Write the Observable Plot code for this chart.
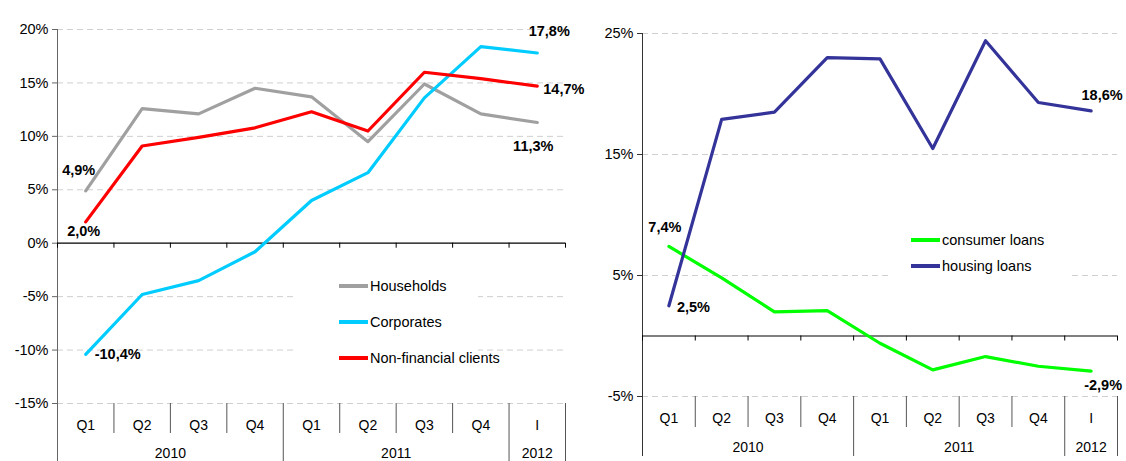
<!DOCTYPE html>
<html><head><meta charset="utf-8">
<script src="https://cdn.jsdelivr.net/npm/d3@7"></script>
<script src="https://cdn.jsdelivr.net/npm/@observablehq/plot@0.6"></script>
<style>
body{margin:0;background:#fff;}
#wrap{position:relative;width:1126px;height:461px;overflow:hidden;background:#fff;font-family:"Liberation Sans",Arial,sans-serif;}
#wrap svg{position:absolute;top:0;overflow:visible;}
.legend{position:absolute;background:#fff;}
.legend .row{position:absolute;left:0;height:0;width:100%;}
.legend .swatch{position:absolute;height:4px;top:-2px;}
.legend .lab{position:absolute;font-size:14.5px;line-height:1;top:-7px;white-space:nowrap;color:#000;}
</style></head><body><div id="wrap"></div>
<script>
// ---- data ----
const quarters = ["Q1","Q2","Q3","Q4","Q1","Q2","Q3","Q4","I"];
const yearLabels = ["2010","2011","2012"];
const yearStart = [0,4,8];
const yearEnd = [4,8,9];

const leftSeriesNames = ["Households","Corporates","Non-financial clients"];
const households   = [4.9, 12.6, 12.1, 14.5, 13.7, 9.5, 14.9, 12.1, 11.3];
const corporates   = [-10.4, -4.8, -3.5, -0.8, 4.0, 6.6, 13.6, 18.4, 17.8];
const nonFinancial = [2.0, 9.1, 9.9, 10.8, 12.3, 10.5, 16.0, 15.4, 14.7];

const rightSeriesNames = ["consumer loans","housing loans"];
const consumerLoans = [7.4, 4.8, 2.0, 2.1, -0.6, -2.8, -1.7, -2.5, -2.9];
const housingLoans  = [2.5, 17.9, 18.5, 23.0, 22.9, 15.5, 24.4, 19.3, 18.6];

const leftTicks = [-15, -10, -5, 0, 5, 10, 15, 20];
const rightTicks = [-5, 5, 15, 25];

// ---- helpers ----
const FONT = '"Liberation Sans", Arial, sans-serif';
const fmt = v => v.toFixed(1).replace(".", ",") + "%";
const pos = (d, i) => i + 0.5;
const bounds = d3.range(quarters.length + 1);

function categoryMarks(bottom, o) {
  const isLong = b => yearStart.includes(b) || b === quarters.length;
  const shortB = bounds.filter(b => b > 0 && !isLong(b));
  const longB = bounds.filter(b => b > 0 && isLong(b));
  return [
    Plot.ruleX(shortB, {x: d => d, y1: () => bottom, y2: () => bottom, insetBottom: -o.qSep, stroke: "#555"}),
    Plot.ruleX(longB, {x: d => d, y1: () => bottom, y2: () => bottom, insetBottom: -o.longSep, stroke: "#555"}),
    Plot.text(quarters, {x: pos, y: () => bottom, dy: o.qDy, text: d => d, fontSize: 14, fill: "#000"}),
    Plot.text(yearLabels, {x: (d, i) => (yearStart[i] + yearEnd[i]) / 2, y: () => bottom, dy: o.yDy, text: d => d, fontSize: 14, fill: "#000"})
  ];
}

function valueLabel(values, i, o) {
  return Plot.text([values[i]], {
    x: () => i + 0.5, y: d => d, text: fmt,
    dx: o.dx, dy: o.dy, textAnchor: o.anchor || "middle",
    fontWeight: "bold", fontSize: 14.5, fill: "#000"
  });
}

function series(values, color) {
  return Plot.line(values, {x: pos, y: d => d, stroke: color, strokeWidth: 3.2, strokeLinejoin: "round"});
}

function yAxisMarks(ticks, top, bottom, o) {
  return [
    Plot.ruleY(ticks.filter(d => d !== 0), {y: d => d, stroke: "#cfcfcf", strokeDasharray: "6,4"}),
    Plot.axisY(ticks, {tickSize: 5, tickPadding: 4, tickFormat: d => String(d) + "%", fontSize: 14.5, label: null, stroke: o.axisColor, fill: "#000"}),
    Plot.ruleX([0], {x: d => d, y1: () => top, y2: () => bottom, insetBottom: -o.axisExt, stroke: o.axisColor}),
    Plot.ruleY([0], {y: d => d, stroke: "#000", strokeWidth: 1.2}),
    Plot.ruleX(bounds, {x: d => d, y1: () => 0, y2: () => 0, insetBottom: -5, stroke: "#000"})
  ];
}

const left = Plot.plot({
  width: 590, height: 461,
  marginLeft: 57, marginRight: 25, marginTop: 29, marginBottom: 58,
  x: {type: "linear", domain: [0, 9], axis: null},
  y: {domain: [-15, 20]},
  style: {background: "transparent", fontFamily: FONT, fontSize: "14.5px", color: "#000"},
  marks: [
    ...yAxisMarks(leftTicks, 20, -15, {axisColor: "#666", axisExt: 60}),
    ...categoryMarks(-15, {qSep: 30, longSep: 60, qDy: 22, yDy: 50}),
    series(households, "#a0a0a0"),
    series(corporates, "#00ccff"),
    series(nonFinancial, "#ff0000"),
    valueLabel(households, 0, {dx: -7, dy: -20}),
    valueLabel(nonFinancial, 0, {dx: -2, dy: 10}),
    valueLabel(corporates, 0, {dx: 9, dy: 0, anchor: "start"}),
    valueLabel(corporates, 8, {dx: 12, dy: -22}),
    valueLabel(nonFinancial, 8, {dx: 6, dy: 3, anchor: "start"}),
    valueLabel(households, 8, {dx: -4, dy: 24})
  ]
});
left.style.left = "0px";

const right = Plot.plot({
  width: 546, height: 461,
  marginLeft: 62, marginRight: 9, marginTop: 33, marginBottom: 65,
  x: {type: "linear", domain: [0, 9], axis: null},
  y: {domain: [-5, 25]},
  style: {background: "transparent", fontFamily: FONT, fontSize: "14.5px", color: "#000"},
  marks: [
    ...yAxisMarks(rightTicks, 25, -5, {axisColor: "#333", axisExt: 60}),
    ...categoryMarks(-5, {qSep: 31, longSep: 60, qDy: 22, yDy: 51}),
    series(consumerLoans, "#00ff00"),
    series(housingLoans, "#333399"),
    valueLabel(consumerLoans, 0, {dx: -4, dy: -19}),
    valueLabel(housingLoans, 0, {dx: 8, dy: 2, anchor: "start"}),
    valueLabel(housingLoans, 8, {dx: 11, dy: -16}),
    valueLabel(consumerLoans, 8, {dx: 12, dy: 14})
  ]
});
right.style.left = "580px";

const wrap = document.getElementById("wrap");
wrap.appendChild(left);
wrap.appendChild(right);

function legend(names, colors, box) {
  const el = document.createElement("div");
  el.className = "legend";
  Object.assign(el.style, {left: box.left + "px", top: box.top + "px", width: box.width + "px", height: box.height + "px"});
  names.forEach((n, i) => {
    const row = document.createElement("div");
    row.className = "row";
    row.style.top = box.rows[i] + "px";
    const sw = document.createElement("div");
    sw.className = "swatch";
    Object.assign(sw.style, {left: box.swLeft + "px", width: box.swWidth + "px", background: colors[i]});
    const lab = document.createElement("div");
    lab.className = "lab";
    lab.style.left = box.textLeft + "px";
    lab.textContent = n;
    row.appendChild(sw); row.appendChild(lab);
    el.appendChild(row);
  });
  wrap.appendChild(el);
}

legend(leftSeriesNames, ["#a0a0a0", "#00ccff", "#ff0000"],
  {left: 293, top: 262, width: 185, height: 113, rows: [24, 60, 96], swLeft: 46, swWidth: 29, textLeft: 77});
legend(rightSeriesNames, ["#00ff00", "#333399"],
  {left: 890, top: 222, width: 181, height: 63, rows: [18, 44], swLeft: 21, swWidth: 29, textLeft: 52});
</script></body></html>
